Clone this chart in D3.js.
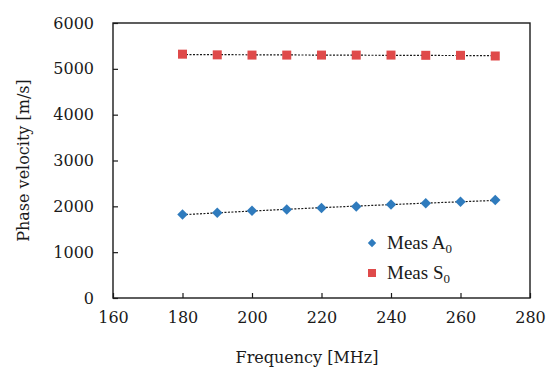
<!DOCTYPE html>
<html>
<head>
<meta charset="utf-8">
<script src="https://cdn.jsdelivr.net/npm/d3@7"></script>
<style>
  body { margin: 0; background: #fff; }
</style>
</head>
<body>
<div id="app"></div>
<script>
// frequencies in MHz
const freq = [180, 190, 200, 210, 220, 230, 240, 250, 260, 270]
const measA0 = [1820, 1860, 1905, 1930, 1965, 1995, 2040, 2065, 2100, 2140]
const measS0 = [5320, 5305, 5300, 5300, 5300, 5300, 5300, 5295, 5295, 5280]

const xTicks = [160, 180, 200, 220, 240, 260, 280]
const yTicks = [0, 1000, 2000, 3000, 4000, 5000, 6000]

const width = 550
const height = 373
const marginLeft = 113
const marginRight = 20
const marginTop = 23
const marginBottom = 75
const ink = '#1a1a1a'

const x = d3.scaleLinear().domain([160, 280]).range([marginLeft, width - marginRight])
const y = d3.scaleLinear().domain([0, 6000]).range([height - marginBottom, marginTop])

const svg = d3.select('#app').append('svg')
  .attr('width', width)
  .attr('height', height)

// plot frame
svg.append('rect')
  .attr('x', x(160)).attr('y', y(6000))
  .attr('width', x(280) - x(160)).attr('height', y(0) - y(6000))
  .attr('fill', 'none').attr('stroke', ink).attr('stroke-width', 1.4)

const xAxis = svg.append('g')
  .attr('transform', `translate(0,${y(0)})`)
  .call(d3.axisBottom(x).tickValues(xTicks).tickSizeInner(-5).tickSizeOuter(0).tickPadding(14))
const yAxis = svg.append('g')
  .attr('transform', `translate(${x(160)},0)`)
  .call(d3.axisLeft(y).tickValues(yTicks).tickSizeInner(-5).tickSizeOuter(0).tickPadding(19).tickFormat(d3.format('d')))

for (const ax of [xAxis, yAxis]) {
  ax.select('.domain').remove()
  ax.selectAll('line').attr('stroke', ink).attr('stroke-width', 1.2)
  ax.selectAll('text').attr('font-family', 'DejaVu Serif').attr('font-size', 16).attr('fill', ink)
}

// trend lines: log fit y = a*ln(x) + b from the data
function logFit(xs, ys) {
  const lx = xs.map(Math.log)
  const mx = d3.mean(lx), my = d3.mean(ys)
  const a = d3.sum(lx, (v, i) => (v - mx) * (ys[i] - my)) / d3.sum(lx, v => (v - mx) ** 2)
  const b = my - a * mx
  return xs.map(v => [v, a * Math.log(v) + b])
}

const line = d3.line().x(d => x(d[0])).y(d => y(d[1])).curve(d3.curveMonotoneX)
for (const s of [measA0, measS0]) {
  svg.append('path')
    .attr('d', line(logFit(freq, s)))
    .attr('fill', 'none').attr('stroke', ink)
    .attr('stroke-width', 1.2).attr('stroke-dasharray', '2,1.5')
}

const blue = '#2f7bbd'
const red = '#df4a4a'

svg.append('g').selectAll('path')
  .data(freq.map((f, i) => [f, measA0[i]]))
  .join('path')
  .attr('transform', d => `translate(${x(d[0])},${y(d[1])})`)
  .attr('d', d3.symbol(d3.symbolDiamond2, 70))
  .attr('fill', blue)

svg.append('g').selectAll('rect')
  .data(freq.map((f, i) => [f, measS0[i]]))
  .join('rect')
  .attr('x', d => x(d[0]) - 4.5).attr('y', d => y(d[1]) - 4.5)
  .attr('width', 9).attr('height', 9)
  .attr('fill', red)

// legend
const legend = svg.append('g').attr('font-family', 'Liberation Serif').attr('font-size', 19).attr('fill', ink)
legend.append('path')
  .attr('transform', 'translate(372,243)')
  .attr('d', d3.symbol(d3.symbolDiamond2, 45))
  .attr('fill', blue)
legend.append('rect')
  .attr('x', 368).attr('y', 269).attr('width', 8).attr('height', 8)
  .attr('fill', red)

const t1 = legend.append('text').attr('x', 387).attr('y', 249)
t1.append('tspan').text('Meas A')
t1.append('tspan').attr('dy', 4).attr('font-size', 13).text('0')
const t2 = legend.append('text').attr('x', 387).attr('y', 279)
t2.append('tspan').text('Meas S')
t2.append('tspan').attr('dy', 4).attr('font-size', 13).text('0')

// axis titles
svg.append('text')
  .attr('x', 307).attr('y', 363)
  .attr('text-anchor', 'middle')
  .attr('font-family', 'DejaVu Serif').attr('font-size', 16).attr('fill', ink)
  .text('Frequency [MHz]')

svg.append('text')
  .attr('transform', `translate(29,${(y(0) + y(6000)) / 2}) rotate(-90)`)
  .attr('text-anchor', 'middle')
  .attr('font-family', 'DejaVu Serif').attr('font-size', 16).attr('fill', ink)
  .text('Phase velocity [m/s]')
</script>
</body>
</html>
